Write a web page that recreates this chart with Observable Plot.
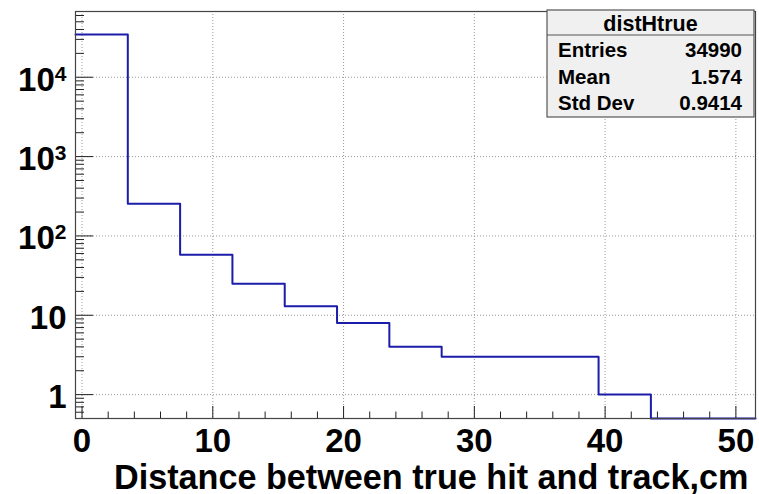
<!DOCTYPE html>
<html>
<head>
<meta charset="utf-8">
<script src="https://cdn.jsdelivr.net/npm/d3@7"></script>
<script src="https://cdn.jsdelivr.net/npm/@observablehq/plot@0.6"></script>
<style>
  html, body { margin: 0; padding: 0; background: #fff; }
  #chart svg { display: block; }
</style>
</head>
<body>
<div id="chart"></div>
<script>
// ---- data ----
const histName = "distHtrue";
const binStart = [-0.5, 3.5, 7.5, 11.5, 15.5, 19.5, 23.5, 27.5, 31.5, 35.5, 39.5, 43.5, 47.5];
const binWidth = 4;
const counts = [34618, 254, 58, 25, 13, 8, 4, 3, 3, 3, 1, 0, 0];
const xTicks = [0, 10, 20, 30, 40, 50];
const xMinorTicks = [2, 4, 6, 8, 12, 14, 16, 18, 22, 24, 26, 28, 32, 34, 36, 38, 42, 44, 46, 48];
const yTicks = [1, 10, 100, 1000, 10000];
const yTickLabels = ["1", "10", "10^2", "10^3", "10^4"];
const statLabels = ["Entries", "Mean", "Std Dev"];
const statValues = ["34990", "1.574", "0.9414"];
const xTitle = "Distance between true hit and track,cm";
const xDomain = [-0.5, 51.5];
const yDomain = [0.5, 67400];

// ---- derived ----
const steps = binStart.map((x0, i) => ({x: x0, y: Math.max(counts[i], yDomain[0])}));
steps.push({x: binStart[binStart.length - 1] + binWidth, y: Math.max(counts[counts.length - 1], yDomain[0])});
const yMinorTicks = [];
[0.1, 1, 10, 100, 1000, 10000].forEach(d => {
  for (let k = 2; k <= 9; k++) {
    const v = d * k;
    if (v > yDomain[0] && v < yDomain[1]) yMinorTicks.push(v);
  }
});

const W = 759, H = 494;
const mL = 75, mR = 4, mT = 11, mB = 76;
const fw = W - mL - mR, fh = H - mT - mB;
const font = "'Liberation Sans', Arial, Helvetica, sans-serif";
const gridStyle = {stroke: "#9a9a9a", strokeDasharray: "1,2", strokeWidth: 1};
const tickStyle = {stroke: "#222", strokeWidth: 1};

const chart = Plot.plot({
  width: W, height: H,
  marginLeft: mL, marginRight: mR, marginTop: mT, marginBottom: mB,
  style: {fontFamily: font, background: "#fff", color: "#000"},
  x: {domain: xDomain, axis: null},
  y: {type: "log", domain: yDomain, axis: null},
  marks: [
    Plot.ruleX(xTicks, {x: d => d, ...gridStyle}),
    Plot.ruleY(yTicks, {y: d => d, ...gridStyle}),
    Plot.tickX(xTicks, {x: d => d, insetTop: fh - 12, ...tickStyle}),
    Plot.tickX(xMinorTicks, {x: d => d, insetTop: fh - 6.5, ...tickStyle}),
    Plot.tickY(yTicks, {y: d => d, insetRight: fw - 18, ...tickStyle}),
    Plot.tickY(yMinorTicks, {y: d => d, insetRight: fw - 9, ...tickStyle}),
    Plot.line(steps, {x: "x", y: "y", curve: "step-after", stroke: "#1c1caa", strokeWidth: 2}),
    Plot.frame({stroke: "#444", strokeWidth: 1.2}),
    Plot.text(xTicks, {x: d => d, frameAnchor: "bottom", lineAnchor: "bottom", dy: 33, text: d => String(d), fontSize: 33, fontWeight: "bold", fill: "#000"}),
    Plot.text(yTicks, {y: d => d, frameAnchor: "left", dx: -9, dy: 3, textAnchor: "end", text: (d, i) => yTickLabels[i], fontSize: 33, fontWeight: "bold", fill: "#000"}),
    Plot.text([xTitle], {frameAnchor: "bottom-right", lineAnchor: "bottom", dx: -7, dy: 70, textAnchor: "end", text: d => d, fontSize: 34.2, fontWeight: "bold", fill: "#000"})
  ]
});

document.getElementById("chart").appendChild(chart);
const svg = d3.select(chart);

// superscripts for log labels
svg.selectAll("text").each(function() {
  const t = this.textContent;
  const m = /^(\d+)\^(\d+)$/.exec(t);
  if (m) {
    const sel = d3.select(this);
    sel.selectAll("*").remove();
    sel.text(m[1]);
    sel.append("tspan").attr("dy", -10).attr("font-size", 21).text(m[2]);
  }
});

// stats box
const bx0 = 547, bx1 = W - mR - 1, by0 = 10, by1 = 117, bSep = 35;
const g = svg.append("g").attr("font-family", font).attr("font-weight", "bold").attr("fill", "#000");
g.append("rect").attr("x", bx0).attr("y", by0).attr("width", bx1 - bx0).attr("height", by1 - by0)
  .attr("fill", "#f0f0f0").attr("stroke", "#555").attr("stroke-width", 1.2);
g.append("line").attr("x1", bx0).attr("x2", bx1).attr("y1", bSep).attr("y2", bSep)
  .attr("stroke", "#555").attr("stroke-width", 1.2);
g.append("text").attr("x", (bx0 + bx1) / 2).attr("y", 31).attr("text-anchor", "middle")
  .attr("font-size", 21.5).text(histName);
const rowY = [57, 83.5, 110];
statLabels.forEach((lab, i) => {
  g.append("text").attr("x", 558).attr("y", rowY[i]).attr("text-anchor", "start").attr("font-size", 20.5).text(lab);
  g.append("text").attr("x", 742).attr("y", rowY[i]).attr("text-anchor", "end").attr("font-size", 20.5).text(statValues[i]);
});
</script>
</body>
</html>
